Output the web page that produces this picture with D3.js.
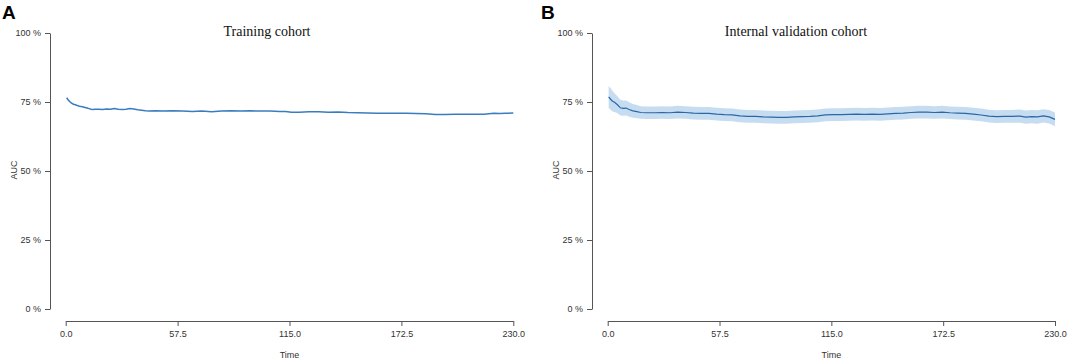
<!DOCTYPE html>
<html>
<head>
<meta charset="utf-8">
<script src="https://cdn.jsdelivr.net/npm/d3@7"></script>
<style>
  body { margin: 0; background: #fff; }
  svg { display: block; }
  .tick text { font-family: "Liberation Sans", Arial, sans-serif; font-size: 9px; fill: #333; }
  .tick line, .domain { stroke: #555; }
</style>
</head>
<body>
<script>
// Chart data.
const yTicks = [0, 25, 50, 75, 100];
const xTicks = [0, 57.5, 115, 172.5, 230];

// Training cohort AUC (%).
const timesA = [0.5, 1, 2, 3, 4, 5, 6, 7, 8, 9, 10, 11, 12, 13, 14, 15, 17, 19, 21, 23, 25, 27, 29, 31, 33, 35, 37, 39, 41, 43, 46, 50, 55, 60, 65, 70, 75, 80, 85, 90, 95, 100, 105, 110, 113, 116, 120, 125, 130, 135, 140, 145, 150, 155, 160, 165, 170, 175, 180, 185, 190, 195, 200, 205, 210, 215, 220, 223, 226, 230];
const aucA = [76.6, 76.0, 75.2, 74.6, 74.2, 74.0, 73.7, 73.5, 73.4, 73.2, 73.0, 72.8, 72.6, 72.4, 72.3, 72.4, 72.4, 72.3, 72.5, 72.4, 72.6, 72.4, 72.3, 72.4, 72.6, 72.5, 72.2, 72.0, 71.8, 71.7, 71.8, 71.7, 71.8, 71.7, 71.6, 71.7, 71.5, 71.7, 71.8, 71.7, 71.8, 71.7, 71.7, 71.6, 71.6, 71.3, 71.3, 71.5, 71.5, 71.3, 71.4, 71.2, 71.1, 71.0, 70.9, 70.9, 70.9, 70.9, 70.8, 70.7, 70.5, 70.5, 70.6, 70.6, 70.6, 70.6, 70.9, 70.8, 70.9, 71.0];

// Internal validation cohort AUC (%) with confidence band.
const timesB = [0.5, 1.5, 2.5, 3.5, 5, 6.5, 8, 9.5, 11, 13, 15, 17, 20, 24, 28, 32, 36, 40, 44, 48, 52, 56, 60, 64, 68, 72, 76, 80, 84, 88, 92, 96, 100, 104, 108, 112, 116, 120, 124, 128, 132, 136, 140, 144, 148, 152, 156, 160, 164, 168, 172, 176, 180, 184, 188, 192, 196, 200, 204, 208, 212, 215, 218, 221, 224, 227, 230];
const aucB = [76.9, 76.0, 75.3, 74.9, 74.0, 72.9, 72.7, 72.8, 72.3, 71.8, 71.5, 71.2, 71.1, 71.1, 71.2, 71.1, 71.3, 71.2, 71.0, 70.9, 70.9, 70.6, 70.4, 70.3, 70.0, 69.8, 69.8, 69.6, 69.5, 69.4, 69.4, 69.6, 69.7, 69.8, 70.0, 70.3, 70.4, 70.4, 70.5, 70.6, 70.5, 70.6, 70.5, 70.7, 70.9, 71.0, 71.2, 71.3, 71.3, 71.2, 71.3, 71.1, 71.0, 70.9, 70.6, 70.3, 69.9, 69.7, 69.8, 69.8, 69.9, 69.5, 69.7, 69.6, 70.0, 69.6, 68.7];
const upB = [80.8, 80.0, 79.0, 78.2, 77.1, 75.8, 75.5, 75.5, 74.9, 74.3, 73.9, 73.5, 73.4, 73.4, 73.5, 73.4, 73.6, 73.5, 73.3, 73.2, 73.2, 72.9, 72.7, 72.6, 72.3, 72.1, 72.1, 71.9, 71.8, 71.7, 71.7, 71.9, 72.0, 72.1, 72.3, 72.6, 72.7, 72.7, 72.8, 72.9, 72.8, 72.9, 72.8, 73.0, 73.2, 73.3, 73.5, 73.6, 73.6, 73.5, 73.6, 73.4, 73.3, 73.2, 72.9, 72.6, 72.2, 72.0, 72.1, 72.1, 72.3, 71.9, 72.1, 72.0, 72.4, 72.1, 71.2];
const lowB = [72.8, 72.2, 71.6, 71.4, 70.9, 70.1, 70.0, 70.1, 69.7, 69.3, 69.1, 68.9, 68.8, 68.8, 68.9, 68.8, 69.0, 68.9, 68.7, 68.6, 68.6, 68.3, 68.1, 68.0, 67.7, 67.5, 67.5, 67.3, 67.2, 67.1, 67.1, 67.3, 67.4, 67.5, 67.7, 68.0, 68.1, 68.1, 68.2, 68.3, 68.2, 68.3, 68.2, 68.4, 68.6, 68.7, 68.9, 69.0, 69.0, 68.9, 69.0, 68.8, 68.7, 68.6, 68.3, 68.0, 67.6, 67.4, 67.5, 67.5, 67.5, 67.1, 67.3, 67.1, 67.6, 67.2, 66.2];

// Svg.
const svg = d3.select('body')
                .append('svg')
                .attr('width', 1067)
                .attr('height', 360);

// Draws one panel of the figure.
function drawPanel(opts) {
    const xScale = d3.scaleLinear().domain([0, 230]).range([opts.x0, opts.x1]);
    const yScale = d3.scaleLinear().domain([0, 100]).range([309, 33]);

    // y-axis.
    svg.append('g')
        .attr('transform', `translate(${opts.yAxisX},0)`)
        .call(d3.axisLeft(yScale).tickValues(yTicks).tickSize(5).tickSizeOuter(0)
            .tickPadding(4).tickFormat(d => `${d} %`));

    // x-axis.
    svg.append('g')
        .attr('transform', 'translate(0,321)')
        .call(d3.axisBottom(xScale).tickValues(xTicks).tickSize(5).tickSizeOuter(0)
            .tickPadding(5).tickFormat(d3.format('.1f')));

    // Axis labels.
    svg.append('text')
        .attr('x', (opts.x0 + opts.x1) / 2)
        .attr('y', 358)
        .attr('text-anchor', 'middle')
        .attr('font-family', 'Liberation Sans, Arial, sans-serif')
        .attr('font-size', '9px')
        .attr('fill', '#333')
        .text('Time');
    svg.append('text')
        .attr('transform', `translate(${opts.yAxisX - 33},170) rotate(-90)`)
        .attr('text-anchor', 'middle')
        .attr('font-family', 'Liberation Sans, Arial, sans-serif')
        .attr('font-size', '9px')
        .attr('fill', '#333')
        .text('AUC');

    // Title and panel letter.
    svg.append('text')
        .attr('x', opts.titleX)
        .attr('y', 36)
        .attr('text-anchor', 'middle')
        .attr('font-family', 'Liberation Serif, Times New Roman, serif')
        .attr('font-size', '14px')
        .attr('fill', '#111')
        .text(opts.title);
    svg.append('text')
        .attr('x', opts.letterX)
        .attr('y', 19)
        .attr('font-family', 'Liberation Sans, Arial, sans-serif')
        .attr('font-weight', 'bold')
        .attr('font-size', '19px')
        .attr('fill', '#000')
        .text(opts.letter);

    // Confidence band.
    if (opts.low) {
        const band = d3.area()
            .x((d, i) => xScale(opts.times[i]))
            .y0((d, i) => yScale(opts.low[i]))
            .y1((d, i) => yScale(opts.up[i]));
        svg.append('path')
            .datum(opts.auc)
            .attr('d', band)
            .attr('fill', '#c6ddf1');
    }

    // AUC line.
    const line = d3.line()
        .x((d, i) => xScale(opts.times[i]))
        .y(d => yScale(d));
    svg.append('path')
        .datum(opts.auc)
        .attr('d', line)
        .attr('fill', 'none')
        .attr('stroke', opts.color)
        .attr('stroke-width', opts.width);
}

drawPanel({ x0: 65.7, x1: 513.3, yAxisX: 50, titleX: 267, letterX: 2, letter: 'A',
            title: 'Training cohort', times: timesA, auc: aucA,
            color: '#3a7cc0', width: 1.5 });
drawPanel({ x0: 607.7, x1: 1055, yAxisX: 592, titleX: 796, letterX: 541, letter: 'B',
            title: 'Internal validation cohort', times: timesB, auc: aucB, low: lowB, up: upB,
            color: '#2a67a6', width: 1.2 });
</script>
</body>
</html>
